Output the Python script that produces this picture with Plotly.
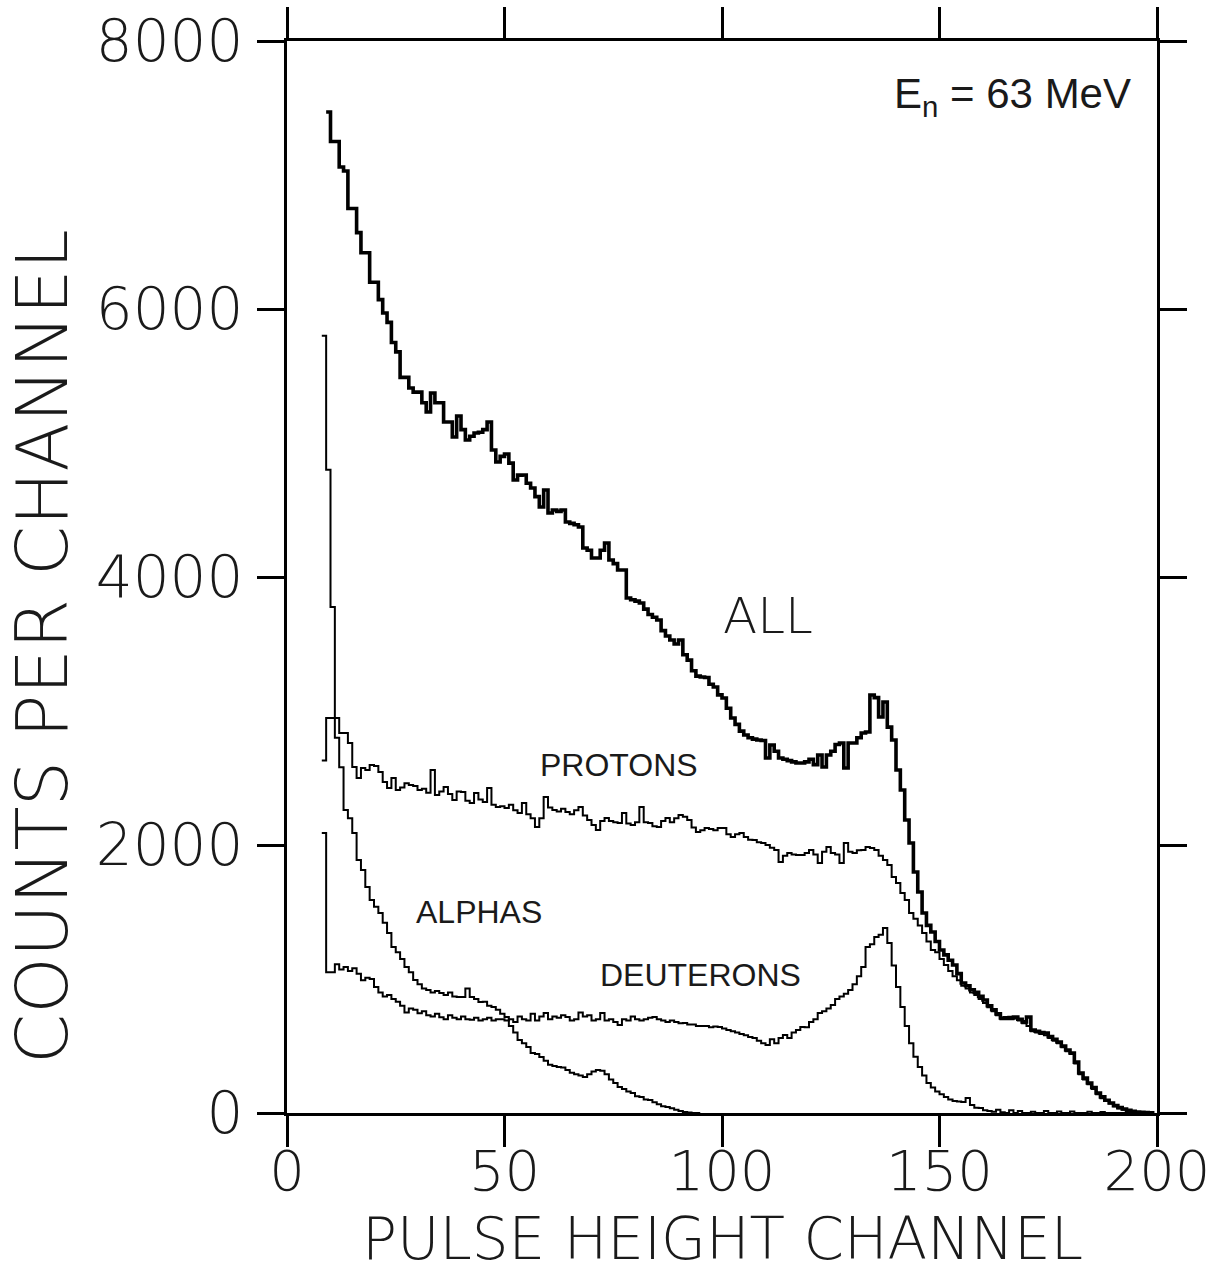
import plotly.graph_objects as go

# ---------------- data ----------------
x_tick_vals = [0, 50, 100, 150, 200]
y_tick_vals = [0, 2000, 4000, 6000, 8000]

all_start = 9
all_counts = [
    7470,
    7250, 7250, 7060, 7030, 6750, 6750, 6570, 6420, 6420, 6200,
    6200, 6070, 5970, 5900, 5750, 5680, 5490, 5490, 5410, 5380,
    5380, 5300, 5231, 5373, 5300, 5300, 5157, 5157, 5045, 5201,
    5100, 5022, 5050, 5075, 5080, 5100, 5157, 4948, 4858, 4900,
    4918, 4850, 4724, 4760, 4761, 4700, 4664, 4600, 4522, 4649,
    4478, 4500, 4490, 4500, 4410, 4400, 4390, 4373, 4216, 4200,
    4142, 4142, 4200, 4254, 4127, 4100, 4052, 4052, 3843, 3830,
    3820, 3806, 3760, 3720, 3700, 3679, 3600, 3560, 3530, 3500,
    3530, 3420, 3380, 3300, 3260, 3254, 3250, 3200, 3179, 3120,
    3097, 3020, 2948, 2900, 2850, 2821, 2800, 2790, 2784, 2780,
    2649, 2746, 2700, 2649, 2640, 2630, 2620, 2612, 2612, 2620,
    2640, 2600, 2672, 2582, 2672, 2700, 2750, 2761, 2575, 2761,
    2761, 2800, 2836, 2843, 3119, 3100, 2955, 3067, 2880, 2784,
    2560, 2410, 2187, 2015, 1799, 1649, 1493, 1400, 1351, 1280,
    1216, 1180, 1140, 1104, 1040, 970, 950, 920, 900, 870,
    843, 800, 770, 740, 709, 710, 712, 716, 700, 680,
    716, 619, 610, 600, 597, 570, 550, 530, 500, 470,
    448, 380, 299, 260, 224, 190, 149, 120, 95, 75,
    55, 40, 30, 20, 12, 8, 5, 3, 2, 0,
]

proton_start = 8
proton_counts = [
    2630, 2948,
    2948, 2948, 2836, 2836, 2761, 2582, 2500, 2575, 2560, 2597,
    2590, 2545, 2470, 2425, 2500, 2410, 2430, 2460, 2448, 2440,
    2410, 2420, 2390, 2560, 2373, 2400, 2433, 2380, 2336, 2400,
    2396, 2330, 2313, 2388, 2340, 2321, 2425, 2300, 2284, 2290,
    2276, 2300, 2260, 2239, 2313, 2230, 2200, 2134, 2200, 2358,
    2280, 2261, 2250, 2270, 2246, 2230, 2260, 2284, 2220, 2187,
    2150, 2112, 2180, 2201, 2180, 2170, 2164, 2239, 2160, 2149,
    2170, 2284, 2170, 2164, 2140, 2134, 2180, 2201, 2170, 2200,
    2224, 2210, 2187, 2130, 2097, 2110, 2127, 2120, 2110, 2127,
    2127, 2080, 2060, 2080, 2090, 2060, 2040, 2037, 2020, 2015,
    2000, 1980, 1963, 1873, 1920, 1940, 1930, 1925, 1925, 1940,
    1963, 1930, 1866, 1950, 1985, 1940, 1930, 1866, 2015, 1950,
    1940, 1960, 1963, 1985, 1978, 1963, 1920, 1888, 1850, 1761,
    1716, 1642, 1590, 1493, 1450, 1400, 1343, 1280, 1216, 1200,
    1150, 1104, 1060, 1020, 990, 950, 930, 900, 880, 850,
    820, 790, 760, 730, 700, 700, 700, 705, 690, 670,
    650, 610, 600, 590, 580, 560, 540, 520, 490, 460,
    440, 370, 290, 250, 215, 180, 140, 110, 90, 70,
    50, 35, 25, 15, 10, 5, 3, 0, 0, 0,
]

alpha_start = 8
alpha_counts = [
    5800, 4800,
    3776, 2800, 2580, 2261, 2200, 2090, 1888, 1813, 1687, 1590,
    1540, 1493, 1420, 1343, 1239, 1200, 1150, 1090, 1050, 993,
    960, 930, 918, 900, 910, 896, 880, 900, 870, 866,
    866, 930, 866, 850, 828, 830, 800, 791, 770, 740,
    716, 650, 600, 545, 520, 493, 448, 440, 418, 390,
    360, 350, 343, 340, 320, 300, 290, 280, 269, 290,
    310, 321, 315, 290, 250, 224, 194, 180, 160, 149,
    125, 119, 100, 97, 80, 65, 50, 45, 35, 25,
    15, 7, 3, 0, 0, 0,
]

deuteron_start = 8
deuteron_counts = [
    2090, 1050,
    1050, 1110, 1070, 1090, 1060, 1080, 1040, 990, 1010, 1000,
    940, 900, 870, 880, 850, 830, 800, 750, 780, 770,
    745, 760, 730, 720, 740, 715, 700, 730, 710, 700,
    720, 700, 695, 710, 690, 700, 710, 690, 700, 700,
    690, 700, 680, 720, 700, 690, 740, 690, 720, 746,
    700, 720, 710, 730, 716, 690, 700, 750, 720, 730,
    690, 700, 746, 690, 700, 680, 657, 700, 690, 720,
    700, 690, 700, 710, 716, 700, 690, 680, 690, 680,
    670, 672, 660, 660, 650, 650, 650, 640, 645, 642,
    630, 620, 610, 600, 590, 580, 567, 560, 540, 520,
    507, 550, 520, 560, 582, 560, 600, 620, 642, 640,
    680, 700, 746, 760, 780, 806, 850, 870, 890, 918,
    960, 1020, 1090, 1239, 1260, 1313, 1330, 1381, 1269, 1100,
    940, 791, 650, 520, 420, 343, 280, 224, 190, 160,
    140, 120, 100, 90, 85, 82, 112, 60, 40, 37,
    20, 15, 10, 25, 5, 0, 20, 0, 15, 0,
    0, 10, 0, 0, 15, 0, 0, 12, 0, 0,
    12, 0, 0, 0, 10, 0, 0, 8, 0, 0,
    0, 0, 0, 0, 0, 0, 0, 0, 0, 0,
]

series_labels = ["ALL", "PROTONS", "ALPHAS", "DEUTERONS"]
energy_label = "E<sub>n</sub> = 63 MeV"

# ---------------- figure ----------------
THIN = "DejaVu Sans"
HELV = "Liberation Sans, Arial, sans-serif"
INK = "#1a1a1a"

W, H = 1221, 1273
ML, MR, MT, MB = 287, 64, 41, 160
PW, PH = W - ML - MR, H - MT - MB


def channels(start, values):
    return list(range(start, start + len(values)))


def px_to_paper(px, py):
    return (px - ML) / PW, (H - MB - py) / PH


fig = go.Figure()
for name, start, vals, w in [
    ("DEUTERONS", deuteron_start, deuteron_counts, 2),
    ("ALPHAS", alpha_start, alpha_counts, 2),
    ("PROTONS", proton_start, proton_counts, 2),
    ("ALL", all_start, all_counts, 3.6),
]:
    fig.add_trace(go.Scatter(
        x=channels(start, vals), y=vals, mode="lines", name=name,
        line=dict(shape="hv", color="black", width=w),
        hoverinfo="x+y+name",
    ))

axis_common = dict(
    showline=True, linewidth=3, linecolor="black", mirror="allticks",
    ticks="outside", tickwidth=3, tickcolor="black",
    showgrid=False, zeroline=False, automargin=False,
)

fig.update_xaxes(range=[0, 200], tickvals=x_tick_vals, ticklen=31,
                 ticklabelstandoff=-24,
                 tickfont=dict(family=THIN, size=56, color=INK, weight=200),
                 **axis_common)
fig.update_yaxes(range=[0, 8000], tickvals=y_tick_vals, ticklen=27,
                 ticklabelstandoff=2,
                 tickfont=dict(family=THIN, size=58, color=INK, weight=200),
                 **axis_common)

xtx, xty = px_to_paper(722, 1239)
ytx, yty = px_to_paper(42, 647)
enx, eny = px_to_paper(1012, 96)
annotations = [
    dict(text="PULSE HEIGHT CHANNEL", xref="paper", yref="paper", x=xtx, y=xty,
         showarrow=False, xanchor="center", yanchor="middle",
         font=dict(family=THIN, size=58, color=INK, weight=200)),
    dict(text="COUNTS PER CHANNEL", xref="paper", yref="paper", x=ytx, y=yty,
         textangle=-90, showarrow=False, xanchor="center", yanchor="middle",
         font=dict(family=THIN, size=72, color=INK, weight=200)),
    dict(text=series_labels[0], x=110.6, y=3709, xref="x", yref="y", showarrow=False,
         xanchor="center", yanchor="middle",
         font=dict(family=THIN, size=50, color=INK, weight=200)),
    dict(text=series_labels[1], x=76.3, y=2597, xref="x", yref="y", showarrow=False,
         xanchor="center", yanchor="middle",
         font=dict(family=HELV, size=32, color=INK)),
    dict(text=series_labels[2], x=44.1, y=1500, xref="x", yref="y", showarrow=False,
         xanchor="center", yanchor="middle",
         font=dict(family=HELV, size=32, color=INK)),
    dict(text=series_labels[3], x=95, y=1030, xref="x", yref="y", showarrow=False,
         xanchor="center", yanchor="middle",
         font=dict(family=HELV, size=32, color=INK)),
    dict(text=energy_label, x=enx, y=eny, xref="paper", yref="paper", showarrow=False,
         xanchor="center", yanchor="middle",
         font=dict(family=HELV, size=42, color=INK)),
]

fig.update_layout(
    width=W, height=H,
    margin=dict(l=ML, r=MR, t=MT, b=MB, autoexpand=False),
    plot_bgcolor="white", paper_bgcolor="white",
    showlegend=False,
    annotations=annotations,
)

fig.write_html("out.html")
